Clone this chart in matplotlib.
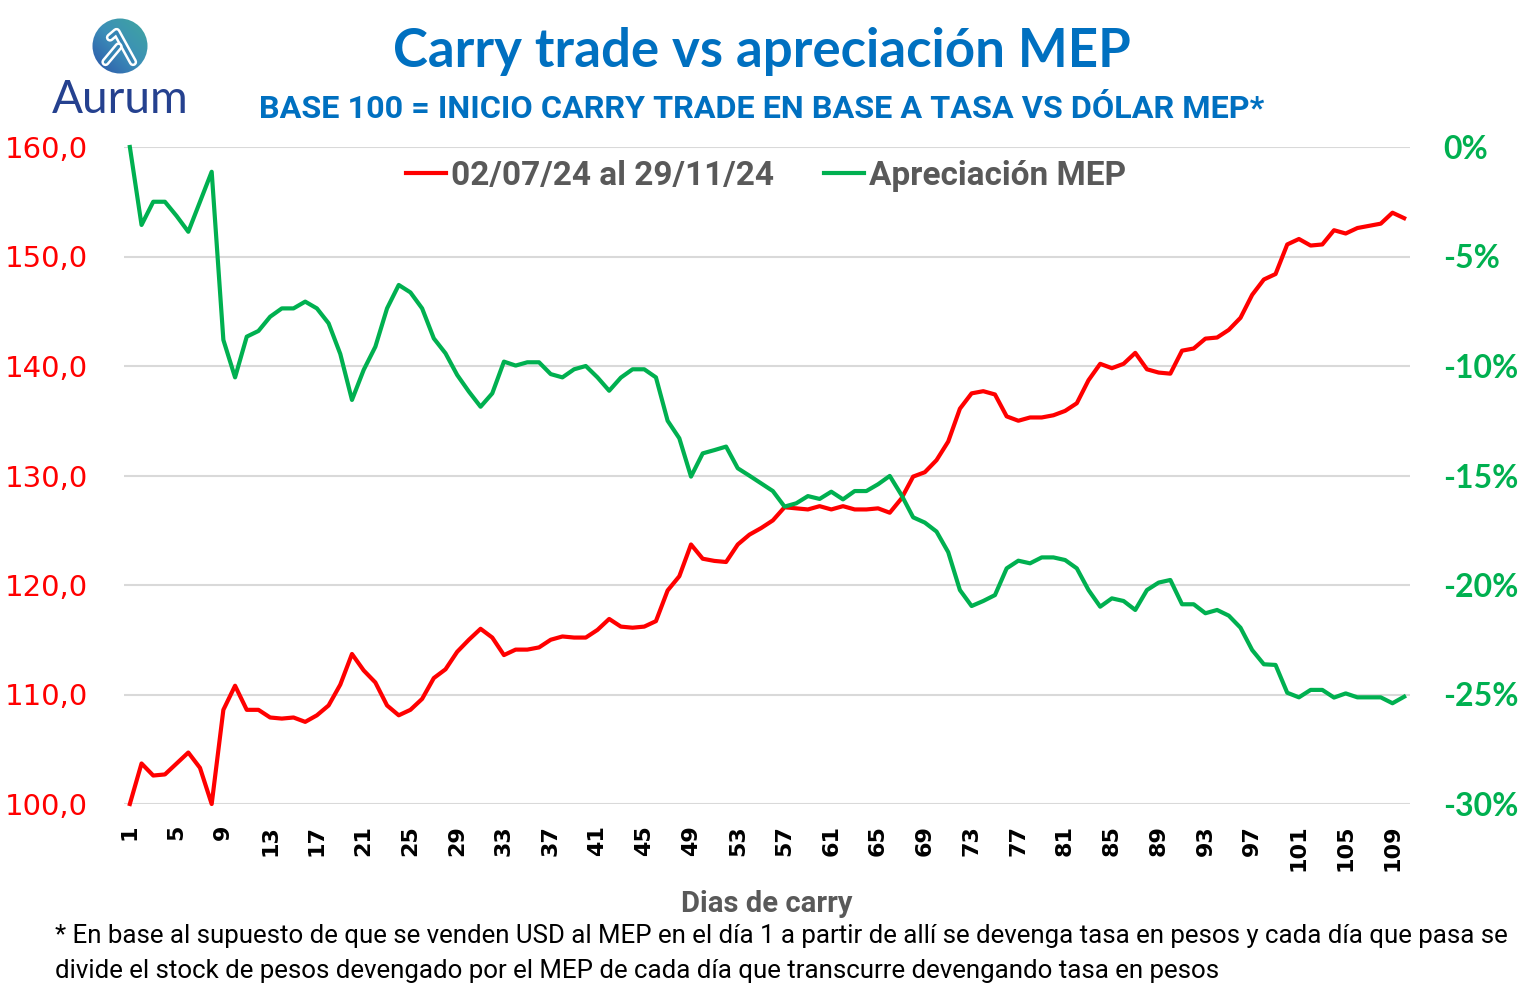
import matplotlib
matplotlib.use('Agg')
import matplotlib.pyplot as plt
import numpy as np
from matplotlib import font_manager
from matplotlib.patches import Circle
from matplotlib.ticker import FuncFormatter, MultipleLocator

W, H = 1526, 999

dias = list(range(1, 111))
carry = [100.0, 103.7, 102.6, 102.7, 103.7, 104.7, 103.3, 100.0, 108.6, 110.8,
         108.6, 108.6, 107.9, 107.8, 107.9, 107.5, 108.1, 109.0, 110.9, 113.7,
         112.2, 111.1, 109.0, 108.1, 108.6, 109.6, 111.5, 112.3, 113.9, 115.0,
         116.0, 115.2, 113.6, 114.1, 114.1, 114.3, 115.0, 115.3, 115.2, 115.2,
         115.9, 116.9, 116.2, 116.1, 116.2, 116.7, 119.5, 120.8, 123.7, 122.4,
         122.2, 122.1, 123.7, 124.6, 125.2, 125.9, 127.1, 127.0, 126.9, 127.2,
         126.9, 127.2, 126.9, 126.9, 127.0, 126.6, 127.9, 129.9, 130.3, 131.4,
         133.1, 136.1, 137.5, 137.7, 137.4, 135.4, 135.0, 135.3, 135.3, 135.5,
         135.9, 136.6, 138.7, 140.2, 139.8, 140.2, 141.2, 139.7, 139.4, 139.3,
         141.4, 141.6, 142.5, 142.6, 143.3, 144.4, 146.5, 147.9, 148.4, 151.1,
         151.6, 151.0, 151.1, 152.4, 152.1, 152.6, 152.8, 153.0, 154.0, 153.5]
# apreciacion MEP en %
mep = [0.0, -3.56, -2.50, -2.50, -3.15, -3.87, -2.50, -1.13, -8.81, -10.52,
       -8.66, -8.40, -7.75, -7.37, -7.37, -7.06, -7.37, -8.05, -9.45, -11.55,
       -10.18, -9.12, -7.37, -6.30, -6.64, -7.37, -8.74, -9.42, -10.41, -11.17,
       -11.86, -11.25, -9.80, -9.98, -9.83, -9.83, -10.37, -10.52, -10.15, -10.00,
       -10.52, -11.13, -10.53, -10.15, -10.15, -10.52, -12.50, -13.30, -15.05, -13.99,
       -13.84, -13.68, -14.67, -15.01, -15.36, -15.71, -16.42, -16.27, -15.94, -16.07,
       -15.74, -16.09, -15.71, -15.71, -15.40, -15.02, -15.89, -16.91, -17.15, -17.56,
       -18.50, -20.23, -20.96, -20.73, -20.46, -19.24, -18.89, -19.01, -18.74, -18.74,
       -18.86, -19.24, -20.23, -20.99, -20.61, -20.73, -21.14, -20.23, -19.89, -19.77,
       -20.88, -20.88, -21.29, -21.14, -21.40, -21.95, -22.97, -23.62, -23.65, -24.92,
       -25.13, -24.79, -24.79, -25.14, -24.95, -25.13, -25.13, -25.13, -25.40, -25.10]

xticks = list(range(1, 111, 4))
lbl_carry = '02/07/24 al 29/11/24'
lbl_mep = 'Apreciación MEP'

avail = {f.name for f in font_manager.fontManager.ttflist}
narrow = 'Liberation Sans Narrow' if 'Liberation Sans Narrow' in avail else 'Roboto'

RED = '#FF0000'; GREEN = '#00B050'; BLUE = '#0070C0'; GRAY = '#595959'

def fx(px): return px / W
def fy(py): return 1 - py / H

fig = plt.figure(figsize=(W / 100, H / 100), dpi=100)
ax = fig.add_axes([fx(124), fy(804), (1410 - 124) / W, (804 - 147) / H])
ax2 = ax.twinx()

ax.plot(dias, carry, color=RED, lw=3.0, clip_on=False, label=lbl_carry, solid_joinstyle='round')
ax2.plot(dias, mep, color=GREEN, lw=3.0, clip_on=False, label=lbl_mep, solid_joinstyle='round')

ax.set_xlim(0.5, 110.5)
ax.set_ylim(100, 160)
ax2.set_ylim(-30, 0)
ax.yaxis.set_major_locator(MultipleLocator(10))
ax2.yaxis.set_major_locator(MultipleLocator(5))
ax.grid(True, axis='y', color='#D9D9D9', lw=1.5)
ax.set_axisbelow(True)
for a in (ax, ax2):
    for s in a.spines.values():
        s.set_visible(False)
    a.tick_params(length=0)

ax.set_xticks(xticks)
ax.set_xticklabels([str(t) for t in xticks], rotation=90, fontsize=16,
                   fontweight='bold', family='DejaVu Sans', color='black')
ax.tick_params(axis='x', pad=15)
ax.yaxis.set_major_formatter(FuncFormatter(lambda v, p: f'{v:.1f}'.replace('.', ',')))
ax.tick_params(axis='y', labelsize=21, labelcolor=RED, pad=26)
for t in ax.get_yticklabels():
    t.set_family('DejaVu Sans')
ax2.yaxis.set_major_formatter(FuncFormatter(lambda v, p: f'{v:.0f}%'))
ax2.tick_params(axis='y', labelsize=23, labelcolor=GREEN, pad=24)
for t in ax2.get_yticklabels():
    t.set_family('Lato'); t.set_fontweight('bold')

# legend
h1, _ = ax.get_legend_handles_labels()
h2, _ = ax2.get_legend_handles_labels()
leg = ax2.legend(h1 + h2, [lbl_carry, lbl_mep], loc='center', bbox_to_anchor=(fx(766), fy(176)),
                 bbox_transform=fig.transFigure, ncol=2, frameon=False, handlelength=1.2,
                 handletextpad=0.15, columnspacing=1.5,
                 prop={'family': narrow, 'weight': 'bold', 'size': 24})
for t in leg.get_texts():
    t.set_color(GRAY)

fig.text(fx(762), fy(52), 'Carry trade vs apreciación MEP', ha='center', va='center',
         fontsize=38, fontweight='bold', family='Lato', color=BLUE)
fig.text(fx(762), fy(109), 'BASE 100 = INICIO CARRY TRADE EN BASE A TASA VS DÓLAR MEP*',
         ha='center', va='center', fontsize=23.3, fontweight='bold', family=narrow, color=BLUE)
fig.text(fx(767), fy(904), 'Dias de carry', ha='center', va='center', fontsize=21,
         fontweight='bold', family=narrow, color=GRAY)
fig.text(fx(55), fy(936), '* En base al supuesto de que se venden USD al MEP en el día 1 a partir de allí se devenga tasa en pesos y cada día que pasa se',
         ha='left', va='center', fontsize=18.6, family=narrow, color='black')
fig.text(fx(55), fy(971), 'divide el stock de pesos devengado por el MEP de cada día que transcurre devengando tasa en pesos',
         ha='left', va='center', fontsize=18.6, family=narrow, color='black')

# logo
lax = fig.add_axes([fx(90), fy(76), 60 / W, 60 / H])
lax.set_xlim(0, 60); lax.set_ylim(0, 60); lax.axis('off')
gx, gy = np.meshgrid(np.linspace(0, 1, 60), np.linspace(0, 1, 60))
grad = (gx + gy) / 2
cmap = matplotlib.colors.LinearSegmentedColormap.from_list('aur', ['#2A4FA8', '#3C8FB8', '#40A89C'])
im = lax.imshow(grad, cmap=cmap, extent=[0, 60, 0, 60], origin='lower')
circ = Circle((30, 30), 27.5, transform=lax.transData, facecolor='none', edgecolor='none')
lax.add_patch(circ)
im.set_clip_path(circ)
ox, oy = 90, 76
p1 = [(110, 37.5), (116.5, 32), (133, 62)]
p2 = [(118.5, 46.5), (105.5, 62)]
for pts in (p1, p2):
    xs = [p[0] - ox for p in pts]; ys = [oy - p[1] for p in pts]
    lax.plot(xs, ys, color='white', lw=6, solid_capstyle='round', solid_joinstyle='round')
    lax.plot(xs, ys, color='#3584B4', lw=2.4, solid_capstyle='round', solid_joinstyle='round')
fig.text(fx(120), fy(100), 'Aurum', ha='center', va='center', fontsize=33,
         family='Lato', color='#25418F')

fig.savefig('out.png', dpi=100)
